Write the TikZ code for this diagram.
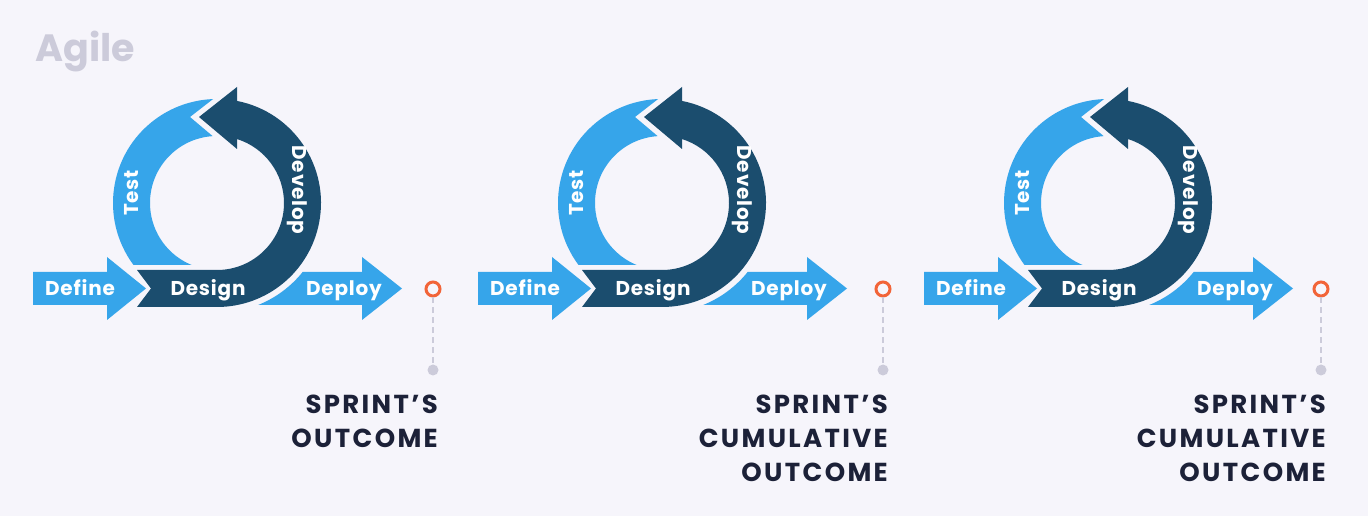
\documentclass[tikz,border=0pt]{standalone}
\usepackage{fontspec}
\setmainfont{Poppins}
\newfontfamily\wordfont[LetterSpace=4]{Poppins}
\newfontfamily\capsfont[LetterSpace=9]{Poppins}
\usetikzlibrary{positioning,calc}
\definecolor{bgpaper}{RGB}{246,245,251}
\definecolor{skyblue}{RGB}{54,165,234}
\definecolor{deepblue}{RGB}{27,77,110}
\definecolor{navytext}{RGB}{28,33,56}
\definecolor{ringorange}{RGB}{242,100,56}
\definecolor{softgray}{RGB}{204,203,218}

\begin{document}
\begin{tikzpicture}[x=1pt,y=1pt,
  light/.style={fill=skyblue},
  dark/.style={fill=deepblue},
  word/.style={text=white,inner sep=0,font=\wordfont\bfseries\fontsize{20}{24}\selectfont},
  outcome/.style={text=navytext,align=right,anchor=north east,inner sep=0,font=\capsfont\bfseries\fontsize{26}{34}\selectfont},
  marker/.style={circle,draw=ringorange,line width=3pt,fill=bgpaper,minimum size=14pt,inner sep=0},
  enddot/.style={circle,fill=softgray,minimum size=11pt,inner sep=0}]
\fill[bgpaper] (0,0) rectangle (1368,516);
\useasboundingbox (0,0) rectangle (1368,516);
\node[anchor=base west,inner sep=0,text=softgray,font=\bfseries\fontsize{38}{40}\selectfont] (agile) at (35,454) {Agile};
\foreach \i/\dx/\rx/\lab in {1/0/216/{SPRINT’S\\OUTCOME},2/445/221/{SPRINT’S\\CUMULATIVE\\OUTCOME},3/891/213/{SPRINT’S\\CUMULATIVE\\OUTCOME}}{
\begin{scope}[shift={(217+\dx,313)}]
  % define
  \fill[light] (-184,-102) -- (-110,-102) -- (-110,-117) -- (-71,-85.5) -- (-110,-54) -- (-110,-69) -- (-184,-69) -- cycle;
  % test
  \fill[light] (216.6:104) arc[start angle=216.6,end angle=92.2,radius=104] -- (-27,86) -- (93.7:67) arc[start angle=93.7,end angle=247.7,radius=67] -- cycle;
  % design and develop
  \fill[dark] (-80,-67) -- (0,-67) arc[start angle=-90,end angle=72.6,radius=67] -- (20,54) -- (-18,86) -- (20,116) -- (78.9:104) arc[start angle=78.9,end angle=-90,radius=104] -- (-80,-104) -- (-66,-85.5) -- cycle;
  % deploy
  \fill[light] (-68:110) -- (145,-102) -- (145,-117) -- (185,-85.5) -- (145,-54) -- (145,-69) -- (-38.8:110) arc[start angle=-38.8,end angle=-68,radius=110] -- cycle;
  \node[word,anchor=base] (define\i) at (-137,-92.5) {Define};
  \node[word,anchor=base] (design\i) at (-9,-92.5) {Design};
  \node[word,anchor=base] (deploy\i) at (127,-92.5) {Deploy};
  \node[word,rotate=90] (test\i) at (-85,10) {Test};
  \node[word,rotate=-90] (develop\i) at (80,13) {Develop};
  \node[marker] (ring\i) at (\rx,-86) {};
  \node[enddot] (dot\i) at (\rx,-167) {};
  \draw[softgray,line width=1.3pt,dash pattern=on 6pt off 4pt] (ring\i) -- (dot\i);
  \node[outcome] (outcome\i) at (\rx+5,-192) {\lab};
\end{scope}}
\end{tikzpicture}
\end{document}
